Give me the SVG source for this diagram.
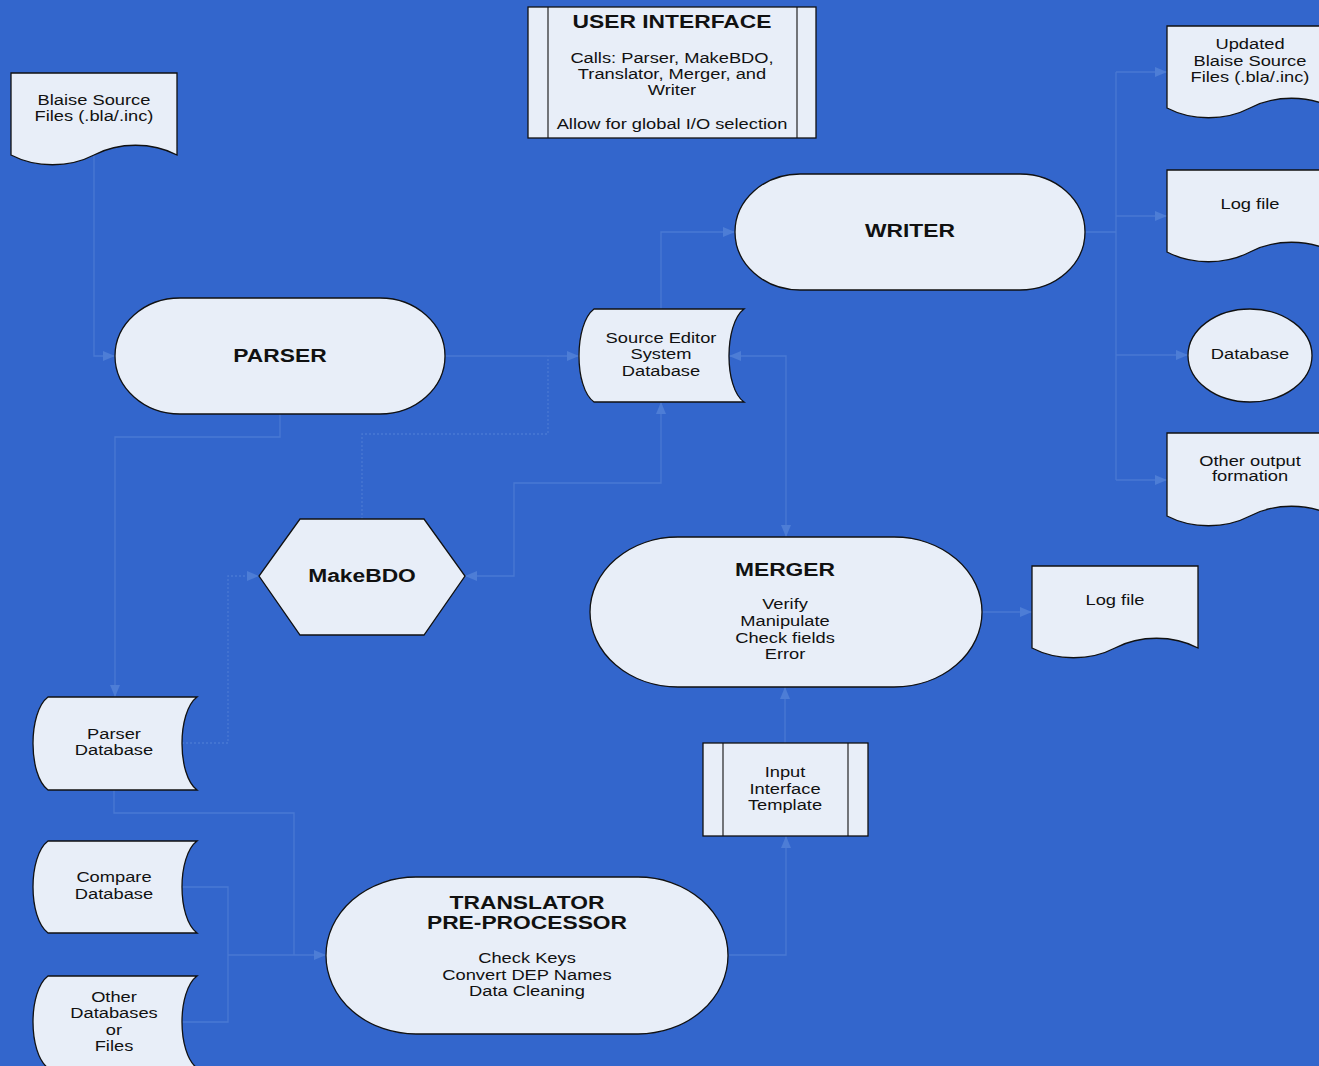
<svg xmlns="http://www.w3.org/2000/svg" width="1319" height="1066" viewBox="0 0 1319 1066">
<style>
.shape{fill:#e8eef8;stroke:#111;stroke-width:1.3}
.inner{fill:none;stroke:#111;stroke-width:1.1}
.conn{fill:none;stroke:#4a79d3;stroke-width:1.3}
.dot{stroke-dasharray:2 2}
.arr{marker-end:url(#ah)}
.both{marker-start:url(#ahs);marker-end:url(#ah)}
text{font-family:"Liberation Sans",Arial,sans-serif;fill:#111;text-anchor:middle}
.n{font-size:15px}
.b{font-size:18.7px;font-weight:bold}
</style>
<defs>
<marker id="ah" viewBox="0 0 12 10" refX="12" refY="5" markerWidth="12" markerHeight="10" markerUnits="userSpaceOnUse" orient="auto">
<path d="M0,0 L12,5 L0,10 Z" fill="#4d7dd6"/>
</marker>
<marker id="ahs" viewBox="0 0 12 10" refX="12" refY="5" markerWidth="12" markerHeight="10" markerUnits="userSpaceOnUse" orient="auto-start-reverse">
<path d="M0,0 L12,5 L0,10 Z" fill="#4d7dd6"/>
</marker>
</defs>
<rect x="0" y="0" width="1319" height="1066" fill="#3366cc"/>

<g id="connectors">
<path class="conn arr" d="M94,155 V356 H115"/>
<path class="conn arr" d="M445,356 H579"/>
<path class="conn arr" d="M280,414 V437 H115 V697"/>
<path class="conn dot" d="M362,519 V434 H548 V356"/>
<path class="conn dot arr" d="M182,743 H228 V576 H259"/>
<path class="conn both" d="M465,576 H514 V483 H661 V402"/>
<path class="conn both" d="M729,356 H786 V537"/>
<path class="conn arr" d="M661,309 V232 H735"/>
<path class="conn" d="M1085,232 H1116 M1116,72 V480"/>
<path class="conn arr" d="M1116,72 H1167"/>
<path class="conn arr" d="M1116,216 H1167"/>
<path class="conn arr" d="M1116,355 H1188"/>
<path class="conn arr" d="M1116,480 H1167"/>
<path class="conn arr" d="M982,612 H1032"/>
<path class="conn arr" d="M785,743 V687"/>
<path class="conn arr" d="M729,955 H786 V836"/>
<path class="conn" d="M114,790 V813 H294 V955"/>
<path class="conn" d="M182,887 H228 V1022 H182"/>
<path class="conn arr" d="M228,955 H326"/>
</g>

<g id="user-interface">
<rect class="shape" x="528" y="7" width="288" height="131"/>
<path class="inner" d="M548,7 V138 M797,7 V138"/>
<text class="b" transform="translate(672 0) scale(1.22 1)"><tspan x="0" y="28">USER INTERFACE</tspan></text>
<text class="n" transform="translate(672 0) scale(1.22 1)"><tspan x="0" y="63">Calls: Parser, MakeBDO,</tspan><tspan x="0" y="79">Translator, Merger, and</tspan><tspan x="0" y="95.5">Writer</tspan><tspan x="0" y="129">Allow for global I/O selection</tspan></text>
</g>

<g id="blaise-source">
<path class="shape" d="M11,73 H177 V155 C152.1,142 118.9,142 94,155 C69.1,168 35.9,168 11,155 Z"/>
<text class="n" transform="translate(94 0) scale(1.22 1)"><tspan x="0" y="105">Blaise Source</tspan><tspan x="0" y="121">Files (.bla/.inc)</tspan></text>
</g>

<g id="parser">
<rect class="shape" x="115" y="298" width="330" height="116" rx="65" ry="58"/>
<text class="b" transform="translate(280 0) scale(1.22 1)"><tspan x="0" y="362">PARSER</tspan></text>
</g>

<g id="writer">
<rect class="shape" x="735" y="174" width="350" height="116" rx="65" ry="58"/>
<text class="b" transform="translate(910 0) scale(1.22 1)"><tspan x="0" y="237">WRITER</tspan></text>
</g>

<g id="source-editor-db">
<path class="shape" d="M594,309 H744 C724,324 724,388 744,402 H594 C574,388 574,324 594,309 Z"/>
<text class="n" transform="translate(661 0) scale(1.22 1)"><tspan x="0" y="343">Source Editor</tspan><tspan x="0" y="359">System</tspan><tspan x="0" y="376">Database</tspan></text>
</g>

<g id="makebdo">
<polygon class="shape" points="300,519 424,519 465,576 424,635 300,635 259,576"/>
<text class="b" transform="translate(362 0) scale(1.22 1)"><tspan x="0" y="582">MakeBDO</tspan></text>
</g>

<g id="parser-db">
<path class="shape" d="M48,697 H197 C177,712 177,775 197,790 H48 C28,775 28,712 48,697 Z"/>
<text class="n" transform="translate(114 0) scale(1.22 1)"><tspan x="0" y="739">Parser</tspan><tspan x="0" y="755">Database</tspan></text>
</g>

<g id="compare-db">
<path class="shape" d="M48,841 H197 C177,856 177,918 197,933 H48 C28,918 28,856 48,841 Z"/>
<text class="n" transform="translate(114 0) scale(1.22 1)"><tspan x="0" y="882">Compare</tspan><tspan x="0" y="899">Database</tspan></text>
</g>

<g id="other-db">
<path class="shape" d="M48,976 H197 C177,991 177,1053 197,1068 H48 C28,1053 28,991 48,976 Z"/>
<text class="n" transform="translate(114 0) scale(1.22 1)"><tspan x="0" y="1002">Other</tspan><tspan x="0" y="1018.5">Databases</tspan><tspan x="0" y="1035">or</tspan><tspan x="0" y="1051.5">Files</tspan></text>
</g>

<g id="translator">
<rect class="shape" x="326" y="877" width="402" height="157" rx="90" ry="78.5"/>
<text class="b" transform="translate(527 0) scale(1.22 1)"><tspan x="0" y="909">TRANSLATOR</tspan><tspan x="0" y="929">PRE-PROCESSOR</tspan></text>
<text class="n" transform="translate(527 0) scale(1.22 1)"><tspan x="0" y="963">Check Keys</tspan><tspan x="0" y="980">Convert DEP Names</tspan><tspan x="0" y="996">Data Cleaning</tspan></text>
</g>

<g id="input-interface">
<rect class="shape" x="703" y="743" width="165" height="93"/>
<path class="inner" d="M723,743 V836 M848,743 V836"/>
<text class="n" transform="translate(785 0) scale(1.22 1)"><tspan x="0" y="777">Input</tspan><tspan x="0" y="794">Interface</tspan><tspan x="0" y="810">Template</tspan></text>
</g>

<g id="merger">
<rect class="shape" x="590" y="537" width="392" height="150" rx="88" ry="75"/>
<text class="b" transform="translate(785 0) scale(1.22 1)"><tspan x="0" y="576">MERGER</tspan></text>
<text class="n" transform="translate(785 0) scale(1.22 1)"><tspan x="0" y="609">Verify</tspan><tspan x="0" y="626">Manipulate</tspan><tspan x="0" y="643">Check fields</tspan><tspan x="0" y="659">Error</tspan></text>
</g>

<g id="merger-log">
<path class="shape" d="M1032,566 H1198 V648 C1173.1,635 1139.9,635 1115,648 C1090.1,661 1056.9,661 1032,648 Z"/>
<text class="n" transform="translate(1115 0) scale(1.22 1)"><tspan x="0" y="605">Log file</tspan></text>
</g>

<g id="updated-source">
<path class="shape" d="M1167,26 H1333 V108 C1308.1,95 1274.9,95 1250,108 C1225.1,121 1191.9,121 1167,108 Z"/>
<text class="n" transform="translate(1250 0) scale(1.22 1)"><tspan x="0" y="49">Updated</tspan><tspan x="0" y="66">Blaise Source</tspan><tspan x="0" y="82">Files (.bla/.inc)</tspan></text>
</g>

<g id="writer-log">
<path class="shape" d="M1167,170 H1333 V252 C1308.1,239 1274.9,239 1250,252 C1225.1,265 1191.9,265 1167,252 Z"/>
<text class="n" transform="translate(1250 0) scale(1.22 1)"><tspan x="0" y="209">Log file</tspan></text>
</g>

<g id="database">
<ellipse class="shape" cx="1250" cy="355.5" rx="62" ry="46.5"/>
<text class="n" transform="translate(1250 0) scale(1.22 1)"><tspan x="0" y="359">Database</tspan></text>
</g>

<g id="other-output">
<path class="shape" d="M1167,433 H1333 V516 C1308.1,503 1274.9,503 1250,516 C1225.1,529 1191.9,529 1167,516 Z"/>
<text class="n" transform="translate(1250 0) scale(1.22 1)"><tspan x="0" y="466">Other output</tspan><tspan x="0" y="481">formation</tspan></text>
</g>
</svg>
